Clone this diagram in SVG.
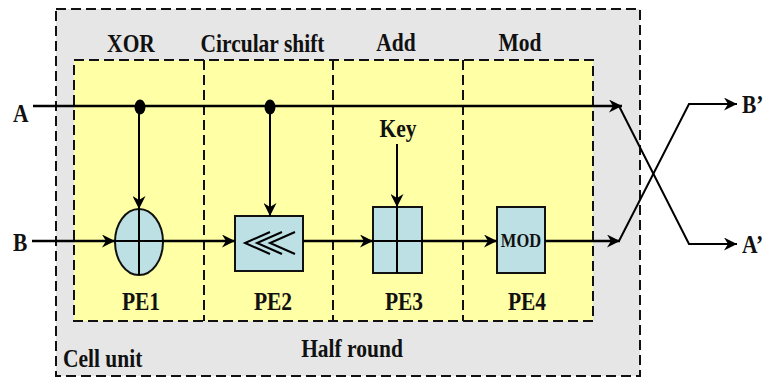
<svg xmlns="http://www.w3.org/2000/svg" width="765" height="378" viewBox="0 0 765 378">
<style>
.t{font-family:"Liberation Serif","Times New Roman",serif;font-weight:bold;font-size:21.5px;fill:#111}
.m{text-anchor:middle}
.dash{fill:none;stroke:#111;stroke-width:2;stroke-dasharray:10 5}
.ln{fill:none;stroke:#000;stroke-width:2.5}
.th{fill:none;stroke:#000;stroke-width:2}
.pe{fill:#bde0e4;stroke:#111;stroke-width:2}
</style>
<defs>
<marker id="ah" markerUnits="userSpaceOnUse" markerWidth="14" markerHeight="13" refX="13" refY="6.5" orient="auto">
<path d="M0,0 L13,6.5 L0,13 L4,6.5 z" fill="#000"/>
</marker>
</defs>
<g id="cell-unit">
<rect x="56" y="9" width="584" height="367" fill="#e6e6e6"/>
<rect x="56" y="9" width="584" height="367" class="dash"/>
<text class="t" transform="translate(63 367) scale(1 1.15)">Cell unit</text>
<text class="t m" transform="translate(352 357) scale(1 1.15)">Half round</text>
</g>
<g id="half-round">
<rect x="74" y="60" width="519" height="261" fill="#ffffa6"/>
<rect x="74" y="60" width="519" height="261" class="dash"/>
<line x1="204" y1="60" x2="204" y2="321" class="dash"/>
<line x1="333" y1="60" x2="333" y2="321" class="dash"/>
<line x1="463" y1="60" x2="463" y2="321" class="dash"/>
<text class="t m" transform="translate(131 52) scale(1 1.15)">XOR</text>
<text class="t m" transform="translate(262.5 52) scale(1 1.15)">Circular shift</text>
<text class="t m" transform="translate(396 51) scale(1 1.15)">Add</text>
<text class="t m" transform="translate(520 51) scale(1 1.15)">Mod</text>
</g>
<g id="PE1">
<ellipse cx="139" cy="242" rx="24" ry="33" class="pe"/>
<line x1="115" y1="241" x2="163" y2="241" class="th"/>
<line x1="139" y1="209" x2="139" y2="275" class="th"/>
<text class="t m" transform="translate(141 310) scale(1 1.15)">PE1</text>
</g>
<g id="PE2">
<rect x="235" y="216" width="68" height="55" class="pe"/>
<polyline points="270,232 245,243 270,254" class="th"/>
<polyline points="282,232 257,243 282,254" class="th"/>
<polyline points="295,232 270,243 295,254" class="th"/>
<text class="t m" transform="translate(273 310) scale(1 1.15)">PE2</text>
</g>
<g id="PE3">
<rect x="373" y="207" width="49" height="66" class="pe"/>
<line x1="397" y1="207" x2="397" y2="273" class="th"/>
<line x1="373" y1="241" x2="422" y2="241" class="th"/>
<text class="t m" transform="translate(404 310) scale(1 1.15)">PE3</text>
</g>
<g id="PE4">
<rect x="497" y="207" width="48" height="66" class="pe"/>
<text class="t m" style="font-size:16.5px" transform="translate(521 247) scale(1 1.15)">MOD</text>
<text class="t m" transform="translate(527 310) scale(1 1.15)">PE4</text>
</g>
<g id="labels">
<text class="t" transform="translate(13 122) scale(1 1.15)">A</text>
<text class="t" transform="translate(13 251) scale(1 1.15)">B</text>
<text class="t" transform="translate(742 113) scale(1 1.15)">B’</text>
<text class="t" transform="translate(742 253) scale(1 1.15)">A’</text>
<text class="t m" transform="translate(398 137) scale(1 1.15)">Key</text>
</g>
<g id="connectors">
<line x1="33" y1="106" x2="622" y2="106" class="ln" marker-end="url(#ah)"/>
<ellipse cx="140" cy="107" rx="5.5" ry="7.5" fill="#000"/>
<ellipse cx="270" cy="107" rx="5.5" ry="7.5" fill="#000"/>
<line x1="139" y1="106" x2="139" y2="209" class="th" marker-end="url(#ah)"/>
<line x1="270" y1="106" x2="270" y2="216" class="th" marker-end="url(#ah)"/>
<line x1="397" y1="144" x2="397" y2="207" class="th" marker-end="url(#ah)"/>
<line x1="32" y1="241" x2="115" y2="241" class="ln" marker-end="url(#ah)"/>
<line x1="163" y1="241" x2="235" y2="241" class="ln" marker-end="url(#ah)"/>
<line x1="303" y1="241" x2="373" y2="241" class="ln" marker-end="url(#ah)"/>
<line x1="422" y1="241" x2="497" y2="241" class="ln" marker-end="url(#ah)"/>
<line x1="545" y1="241" x2="620" y2="241" class="ln" marker-end="url(#ah)"/>
<polyline points="619,106 689,244 737,244" class="th" marker-end="url(#ah)"/>
<polyline points="619,241 689,104 737,104" class="th" marker-end="url(#ah)"/>
</g>
</svg>
